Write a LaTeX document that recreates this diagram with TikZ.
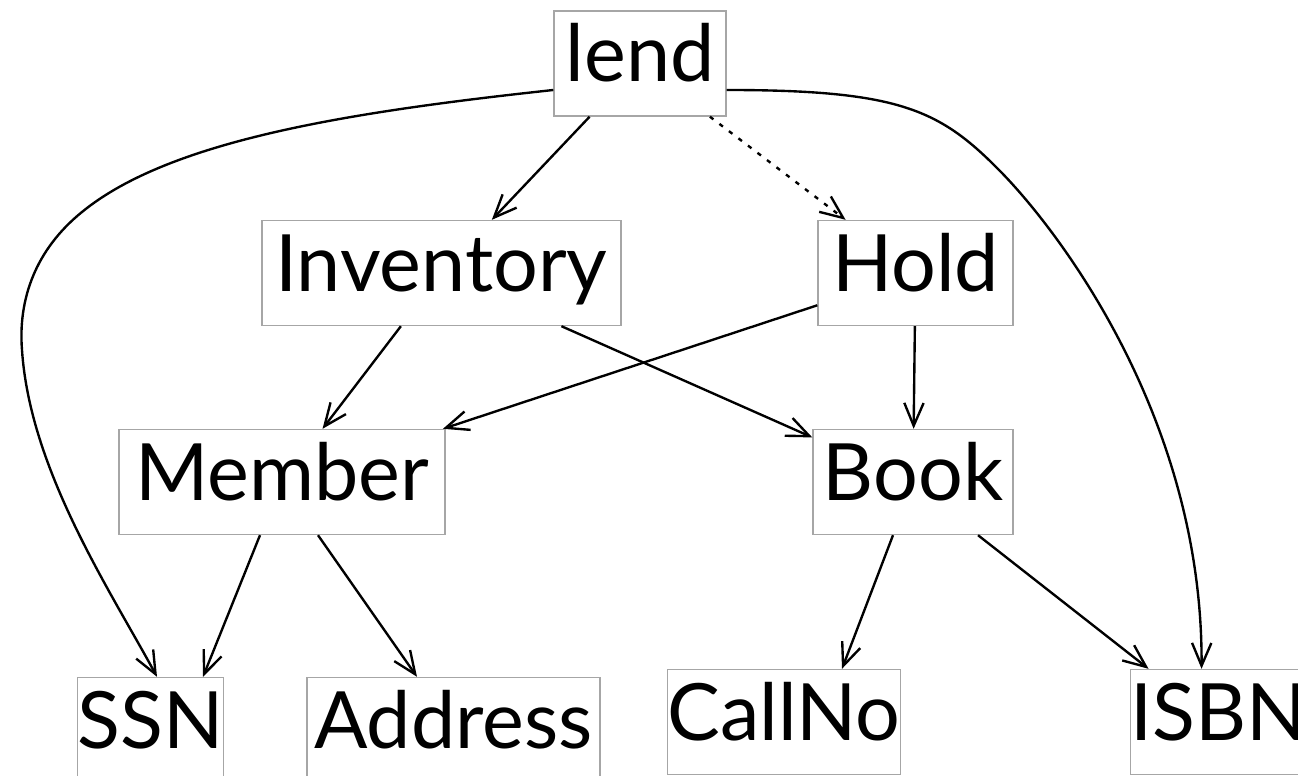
\documentclass[tikz,border=0pt]{standalone}
\usepackage{fontspec}
\setmainfont{Lato}
\usepackage{tikz}
\usetikzlibrary{arrows.meta, positioning, calc}

\begin{document}
\begin{tikzpicture}
  [
    x=0.02cm, y=-0.02cm,
    Box/.style={rectangle, draw=black!35, line width=0.8pt, inner xsep=0pt, inner ysep=0pt,
      text height=1.42cm, text depth=0.68cm, font=\fontsize{45}{54}\selectfont},
    Link/.style={-{Straight Barb[length=13pt, width=11pt]}, draw, line width=1.35pt},
    Weak/.style={Link, dash pattern=on 2.5pt off 4.3pt}
  ]
  \useasboundingbox (0,0) rectangle (1298,776);
  % Nodes
  \node[Box, minimum width=3.44cm] (lend) at(640, 63.5) {lend};
  \node[Box, minimum width=7.18cm] (inventory) at(441.5, 273) {Inventory};
  \node[Box, minimum width=3.9cm] (hold) at(915.5, 273) {Hold};
  \node[Box, minimum width=6.52cm] (member) at(282, 482) {Member};
  \node[Box, minimum width=4.0cm] (book) at(913, 482) {Book};
  \node[Box, minimum width=2.3cm] (ssn) at(150.5, 730) {SSN};
  \node[Box, minimum width=5.86cm] (address) at(453.5, 730) {Address};
  \node[Box, minimum width=3.84cm] (callno) at(784, 722) {CallNo};
  \node[Box, minimum width=3.5cm] (isbn) at(1218.5, 722) {ISBN};

  % Lines
  \path [Link] (lend) -- (inventory);
  \path [Weak] (lend) -- (hold);
  \path [Link] ($(lend.west)+(0,26.5)$) .. controls (350,112) and (170,140) .. (82,212)
    .. controls (35,250) and (18,300) .. (22,350)
    .. controls (30,470) and (110,590) .. ($(ssn.north)+(6.5,0)$);
  \path [Link] ($(lend.east)+(0,26.5)$) .. controls (900,90) and (940,110) .. (1000,171)
    .. controls (1060,232) and (1203,420) .. ($(isbn.north west)+(72,0)$);
  \path [Link] (inventory) -- (member);
  \path [Link] (inventory) -- (book);
  \path [Link] (hold) -- (member);
  \path [Link] (hold) -- (book);
  \path [Link] ($(member.south)+(-22,0)$) -- ($(ssn.north)+(52.5,0)$);
  \path [Link] ($(member.south)+(36,0)$) -- ($(address.north)+(-36.5,0)$);
  \path [Link] ($(book.south)+(-20,0)$) -- ($(callno.north)+(58,0)$);
  \path [Link] ($(book.south)+(65,0)$) -- ($(isbn.north west)+(19,0)$);

\end{tikzpicture}
\end{document}
